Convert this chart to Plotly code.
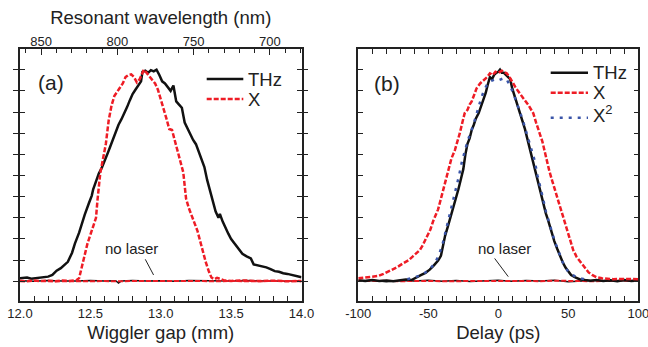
import plotly.graph_objects as go

# ---------------- data: panel (a) ----------------
gap_thz = [12.00, 12.05, 12.08, 12.12, 12.16, 12.20, 12.23, 12.26, 12.29, 12.32, 12.34, 12.37, 12.39,
           12.42, 12.44, 12.46, 12.49, 12.51, 12.52, 12.54, 12.56, 12.58, 12.60, 12.62, 12.64, 12.66,
           12.68, 12.70, 12.72, 12.74, 12.76, 12.78, 12.80, 12.82, 12.84, 12.86, 12.87, 12.89, 12.91,
           12.93, 12.95, 12.97, 12.99, 13.01, 13.03, 13.05, 13.07, 13.09, 13.11, 13.13, 13.15, 13.17,
           13.19, 13.21, 13.23, 13.25, 13.27, 13.29, 13.31, 13.33, 13.35, 13.37, 13.39, 13.41, 13.42,
           13.44, 13.46, 13.48, 13.50, 13.53, 13.56, 13.58, 13.61, 13.64, 13.66, 13.69, 13.72, 13.75,
           13.78, 13.81, 13.84, 13.87, 13.90, 13.94, 13.97, 14.00]
thz_a = [0.015, 0.018, 0.012, 0.016, 0.020, 0.022, 0.030, 0.050, 0.062, 0.078, 0.092, 0.135, 0.178,
         0.230, 0.274, 0.315, 0.370, 0.405, 0.435, 0.470, 0.510, 0.535, 0.565, 0.600, 0.635, 0.670,
         0.705, 0.740, 0.765, 0.790, 0.822, 0.855, 0.885, 0.905, 0.925, 0.945, 0.990, 0.995, 0.985,
         0.998, 0.992, 1.000, 0.975, 0.945, 0.935, 0.920, 0.900, 0.925, 0.850, 0.835, 0.820, 0.750,
         0.720, 0.690, 0.668, 0.648, 0.615, 0.580, 0.540, 0.478, 0.430, 0.390, 0.330, 0.300, 0.318,
         0.282, 0.250, 0.225, 0.200, 0.172, 0.148, 0.130, 0.118, 0.108, 0.080, 0.076, 0.070, 0.066,
         0.058, 0.048, 0.045, 0.038, 0.035, 0.030, 0.025, 0.019]

gap_x = [12.00, 12.05, 12.10, 12.15, 12.20, 12.25, 12.30, 12.35, 12.40, 12.42, 12.44, 12.46, 12.48,
         12.50, 12.52, 12.54, 12.55, 12.56, 12.57, 12.59, 12.61, 12.63, 12.65, 12.67, 12.69, 12.71,
         12.73, 12.75, 12.77, 12.79, 12.81, 12.83, 12.85, 12.87, 12.88, 12.90, 12.92, 12.94, 12.96,
         12.98, 13.00, 13.02, 13.04, 13.06, 13.08, 13.10, 13.12, 13.14, 13.16, 13.18, 13.20, 13.22,
         13.24, 13.26, 13.28, 13.30, 13.32, 13.34, 13.36, 13.38, 13.40, 13.42, 13.45, 13.50, 13.60,
         13.70, 13.80, 13.90, 14.00]
x_a = [0.003, 0.000, 0.004, 0.001, 0.003, 0.000, 0.004, 0.002, 0.005, 0.015, 0.070, 0.130, 0.180,
       0.220, 0.265, 0.300, 0.380, 0.450, 0.510, 0.580, 0.650, 0.760, 0.830, 0.875, 0.895, 0.915,
       0.935, 0.965, 0.975, 0.978, 0.965, 0.940, 0.955, 0.985, 1.000, 0.985, 0.968, 0.952, 0.935,
       0.905, 0.855, 0.815, 0.770, 0.720, 0.715, 0.660, 0.615, 0.565, 0.515, 0.390, 0.345, 0.305,
       0.275, 0.240, 0.190, 0.135, 0.090, 0.050, 0.018, 0.010, 0.016, 0.012, 0.004, 0.002, 0.004,
       0.001, 0.003, 0.000, 0.002]

gap_nl = [12.0, 12.1, 12.2, 12.3, 12.4, 12.5, 12.6, 12.68, 12.70, 12.72, 12.8, 12.9, 13.0, 13.1,
          13.2, 13.3, 13.4, 13.5, 13.6, 13.7, 13.8, 13.9, 14.0]
nl_thz_a = [0.003, 0.000, 0.004, 0.001, 0.002, 0.004, 0.002, 0.003, -0.008, 0.002, 0.004, 0.001,
            0.003, 0.000, 0.004, 0.002, 0.003, 0.001, 0.004, 0.002, 0.003, 0.000, 0.003]
nl_x_a = [0.000, 0.002, 0.000, 0.001, 0.000, 0.002, 0.001, 0.000, 0.001, 0.000, 0.002, 0.000,
          0.001, 0.002, 0.000, 0.001, 0.000, 0.002, 0.000, 0.001, 0.000, 0.002, 0.000]

gap_ticks = [12.0, 12.5, 13.0, 13.5, 14.0]
gap_ticktext = ["12.0", "12.5", "13.0", "13.5", "14.0"]

# top axis (resonant wavelength, nm) – linear over this range
wl_range = [863.8, 679.2]
wl_ticks = [850, 800, 750, 700]

# ---------------- data: panel (b) ----------------
d_thz = [-100, -95, -90, -85, -80, -75, -70, -66, -62, -58, -55, -52, -49, -46, -43, -41, -39.5, -38,
         -36, -34, -32, -30, -28.5, -27, -25, -23.5, -22, -20.5, -19, -17.5, -16, -14, -12, -10.5,
         -9, -7.5, -6, -4.5, -3, -1.5, 0, 1.2, 2.5, 4, 5.5, 7, 8.5, 10, 11.5, 13, 14.5, 16, 17.5,
         19, 20.5, 22, 23.5, 25, 26.5, 28, 29.5, 31, 32.5, 34, 35.5, 37, 38.5, 40, 42, 44, 46, 48,
         50, 52, 55, 58, 62, 66, 70, 75, 80, 85, 90, 95, 100]
thz_b = [0.005, 0.002, 0.006, 0.001, 0.004, 0.000, 0.005, 0.008, 0.006, 0.018, 0.030, 0.040, 0.055,
         0.075, 0.098, 0.120, 0.170, 0.215, 0.260, 0.305, 0.360, 0.400, 0.435, 0.475, 0.530, 0.600,
         0.650, 0.675, 0.715, 0.740, 0.770, 0.795, 0.830, 0.865, 0.890, 0.930, 0.965, 0.955, 0.975,
         0.985, 0.990, 1.000, 0.985, 0.985, 0.975, 0.965, 0.955, 0.910, 0.880, 0.850, 0.815, 0.790,
         0.760, 0.720, 0.680, 0.640, 0.595, 0.550, 0.510, 0.480, 0.435, 0.400, 0.355, 0.320, 0.290,
         0.255, 0.225, 0.190, 0.155, 0.120, 0.090, 0.065, 0.045, 0.030, 0.018, 0.010, 0.006, 0.003,
         0.006, 0.002, 0.005, 0.000, 0.006, 0.002, 0.004]

d_x = [-100, -95, -90, -86, -82, -78, -76, -72, -68, -64, -61, -58, -56, -54, -52, -50, -48.5,
       -46.5, -44.5, -43, -41, -39.5, -37.5, -35.5, -33.5, -31, -29, -27.5, -25.5, -24, -22, -20.5,
       -19, -17, -15.5, -13, -10.5, -8, -6, -4, -2, 0, 2.5, 4.5, 6, 8, 10, 12, 14, 16.5, 19, 21.5,
       23.5, 25, 27, 28.5, 30, 31.5, 33.3, 35, 36.5, 38.5, 40.5, 43, 45, 47, 49, 51, 53.5, 56, 59.5,
       62, 64.5, 67, 70, 74, 78, 82, 88, 94, 100]
x_b = [0.014, 0.018, 0.020, 0.025, 0.035, 0.048, 0.053, 0.068, 0.085, 0.100, 0.118, 0.135, 0.148,
       0.170, 0.195, 0.220, 0.245, 0.285, 0.320, 0.340, 0.390, 0.430, 0.480, 0.530, 0.580, 0.620,
       0.660, 0.700, 0.755, 0.795, 0.810, 0.835, 0.850, 0.885, 0.912, 0.935, 0.951, 0.965, 0.983,
       0.975, 0.990, 0.985, 0.995, 0.990, 0.983, 0.965, 0.940, 0.920, 0.900, 0.880, 0.855, 0.833,
       0.810, 0.794, 0.750, 0.715, 0.690, 0.660, 0.605, 0.560, 0.520, 0.475, 0.430, 0.380, 0.337,
       0.290, 0.242, 0.195, 0.148, 0.115, 0.085, 0.060, 0.042, 0.030, 0.020, 0.014, 0.012, 0.010,
       0.011, 0.009, 0.010]

d_x2 = [-65, -60, -55, -50, -46, -43, -40, -38, -36, -34, -32, -30, -28, -26, -24, -22, -20, -18,
        -16, -14, -12, -10, -8, -6, -4, -2, 0, 2, 4, 6, 8, 10, 12, 14, 16, 18, 20, 22, 24, 26, 28,
        30, 32, 34, 36, 38, 40, 42, 44, 46, 48, 50, 53, 56, 60, 65]
x2_b = [0.010, 0.018, 0.030, 0.050, 0.080, 0.115, 0.170, 0.225, 0.280, 0.330, 0.400, 0.450, 0.500,
        0.565, 0.620, 0.660, 0.700, 0.735, 0.780, 0.830, 0.870, 0.905, 0.930, 0.945, 0.950, 0.955,
        0.950, 0.955, 0.960, 0.955, 0.930, 0.900, 0.865, 0.830, 0.790, 0.750, 0.705, 0.660, 0.620,
        0.570, 0.500, 0.450, 0.390, 0.330, 0.290, 0.240, 0.195, 0.160, 0.120, 0.090, 0.065, 0.045,
        0.030, 0.020, 0.012, 0.008]

d_nl = [-100, -90, -80, -70, -60, -50, -40, -30, -20, -10, 0, 10, 20, 30, 40, 50, 60, 70, 80, 90, 100]
nl_thz_b = [0.002, 0.005, -0.002, 0.004, 0.001, 0.005, 0.000, 0.004, -0.001, 0.003, 0.005, 0.000,
            0.004, 0.001, 0.005, -0.002, 0.003, 0.005, 0.000, 0.004, 0.002]
nl_x_b = [0.003, 0.001, 0.003, 0.000, 0.002, 0.001, 0.003, 0.000, 0.002, 0.001, 0.003, 0.001,
          0.002, 0.000, 0.003, 0.001, 0.002, 0.000, 0.003, 0.001, 0.002]

delay_ticks = [-100, -50, 0, 50, 100]
delay_ticktext = ["-100", "-50", "0", "50", "100"]

legend_a = ["THz", "X"]
legend_b = ["THz", "X", "X<sup>2</sup>"]

# ---------------- style ----------------
FONT = "Liberation Sans, Arial, sans-serif"
BLACK = "#111111"
RED = "#ee1c25"
BLUE = "#3a55a8"
INK = "#222222"
W, H = 648, 347
RED_DASH = "5px,2px"
BLUE_DOT = "3px,6px"

def px_x(p):
    return p / W

def px_y(p):
    return 1 - p / H

y_range = [-0.0907, 1.0964]
dom_a = [px_x(20), px_x(301.5)]
dom_b = [px_x(358.3), px_x(638.3)]
dom_y = [px_y(300.5), px_y(49.3)]

fig = go.Figure()

# panel (a)
fig.add_trace(go.Scatter(x=gap_nl, y=nl_thz_a, mode="lines", line=dict(color=BLACK, width=1.5),
                         showlegend=False, xaxis="x", yaxis="y"))
fig.add_trace(go.Scatter(x=gap_nl, y=nl_x_a, mode="lines", line=dict(color=RED, width=2, dash=RED_DASH),
                         showlegend=False, xaxis="x", yaxis="y"))
fig.add_trace(go.Scatter(x=gap_thz, y=thz_a, mode="lines", name="THz", showlegend=False,
                         line=dict(color=BLACK, width=2.5), xaxis="x", yaxis="y"))
fig.add_trace(go.Scatter(x=gap_x, y=x_a, mode="lines", name="X", showlegend=False,
                         line=dict(color=RED, width=2.5, dash=RED_DASH), xaxis="x", yaxis="y"))
# invisible carrier so the top wavelength axis is drawn
fig.add_trace(go.Scatter(x=wl_ticks, y=[0.5] * len(wl_ticks), mode="markers",
                         marker=dict(opacity=0, size=1), hoverinfo="skip", showlegend=False,
                         xaxis="x3", yaxis="y"))

# panel (b)
fig.add_trace(go.Scatter(x=d_nl, y=nl_thz_b, mode="lines", line=dict(color=BLACK, width=1.5),
                         showlegend=False, xaxis="x2", yaxis="y2"))
fig.add_trace(go.Scatter(x=d_nl, y=nl_x_b, mode="lines", line=dict(color=RED, width=2, dash=RED_DASH),
                         showlegend=False, xaxis="x2", yaxis="y2"))
fig.add_trace(go.Scatter(x=d_thz, y=thz_b, mode="lines", name="THz", showlegend=False,
                         line=dict(color=BLACK, width=2.5), xaxis="x2", yaxis="y2"))
fig.add_trace(go.Scatter(x=d_x, y=x_b, mode="lines", name="X", showlegend=False,
                         line=dict(color=RED, width=2.5, dash=RED_DASH), xaxis="x2", yaxis="y2"))
fig.add_trace(go.Scatter(x=d_x2, y=x2_b, mode="lines", name="X<sup>2</sup>", showlegend=False,
                         line=dict(color=BLUE, width=2.5, dash=BLUE_DOT), xaxis="x2", yaxis="y2"))

tickfont = dict(family=FONT, size=13, color=INK)
titlefont = dict(family=FONT, size=18.5, color=INK)
axline = dict(showline=True, linecolor=INK, linewidth=1.5, showgrid=False, zeroline=False)

# hand-placed legends (line sample + label), positioned in paper pixels
legend_styles_a = [dict(color=BLACK, width=2.5), dict(color=RED, width=2.5, dash=RED_DASH)]
legend_styles_b = [dict(color=BLACK, width=2.5), dict(color=RED, width=2.5, dash=RED_DASH),
                   dict(color=BLUE, width=2.5, dash=BLUE_DOT)]
legend_rows_a = [79, 99]
legend_rows_b = [72.7, 92.7, 117.7]

shapes = [
    dict(type="line", xref="x", yref="y", x0=12.89, y0=0.104, x1=12.949, y1=0.03,
         line=dict(color=INK, width=1)),
    dict(type="line", xref="x2", yref="y2", x0=-2.6, y0=0.108, x1=7.1, y1=0.022,
         line=dict(color=INK, width=1)),
]
annotations = [
    dict(text="(a)", x=12.22, y=0.94, xref="x", yref="y", showarrow=False,
         font=dict(family=FONT, size=21, color=INK)),
    dict(text="(b)", x=-79.5, y=0.935, xref="x2", yref="y2", showarrow=False,
         font=dict(family=FONT, size=21, color=INK)),
    dict(text="no laser", x=12.79, y=0.155, xref="x", yref="y", showarrow=False,
         font=dict(family=FONT, size=15, color=INK)),
    dict(text="no laser", x=4.5, y=0.153, xref="x2", yref="y2", showarrow=False,
         font=dict(family=FONT, size=15, color=INK)),
]

for labels, styles, rows, x0, x1 in [(legend_a, legend_styles_a, legend_rows_a, 206.7, 243.3),
                                     (legend_b, legend_styles_b, legend_rows_b, 550.7, 588.0)]:
    for lab, st, yy in zip(labels, styles, rows):
        shapes.append(dict(type="line", xref="paper", yref="paper", x0=px_x(x0), x1=px_x(x1),
                           y0=px_y(yy), y1=px_y(yy), line=st))
        ty = yy - 4 if "sup" in lab else yy
        annotations.append(dict(text=lab, xref="paper", yref="paper", x=px_x(x1 + 3), y=px_y(ty),
                                xanchor="left", yanchor="middle", showarrow=False,
                                font=dict(family=FONT, size=18.5, color=INK)))

fig.update_layout(
    width=W, height=H,
    margin=dict(l=0, r=0, t=0, b=0),
    paper_bgcolor="white", plot_bgcolor="white",
    font=dict(family=FONT, color=INK),
    showlegend=False,
    xaxis=dict(domain=dom_a, range=[12.0, 14.0], anchor="y", tickvals=gap_ticks,
               ticktext=gap_ticktext, ticks="inside", ticklen=5,
               tickcolor=INK, minor=dict(dtick=0.1, ticks="inside", ticklen=5, tickcolor=INK),
               mirror=True, tickfont=tickfont, automargin=False, ticklabeloverflow="allow",
               title=dict(text="Wiggler gap (mm)", font=titlefont, standoff=6), **axline),
    xaxis3=dict(domain=dom_a, range=wl_range, overlaying="x", side="top", anchor="y",
                tickvals=wl_ticks, ticks="inside", ticklen=6, tickcolor=INK,
                minor=dict(dtick=10, ticks="inside", ticklen=4, tickcolor=INK),
                tickfont=tickfont, automargin=False,
                title=dict(text="Resonant wavelength (nm)", font=titlefont, standoff=4),
                showline=False, showgrid=False, zeroline=False),
    yaxis=dict(domain=dom_y, range=y_range, anchor="x", dtick=0.1, tick0=0, ticks="inside", ticklen=5,
               tickcolor=INK, showticklabels=False, mirror="allticks", automargin=False, **axline),
    xaxis2=dict(domain=dom_b, range=[-100, 100], anchor="y2", tickvals=delay_ticks,
                ticktext=delay_ticktext, ticks="inside", ticklen=5,
                tickcolor=INK, minor=dict(dtick=10, ticks="inside", ticklen=5, tickcolor=INK),
                mirror="allticks", tickfont=tickfont, automargin=False, ticklabeloverflow="allow",
                title=dict(text="Delay (ps)", font=titlefont, standoff=6), **axline),
    yaxis2=dict(domain=dom_y, range=y_range, anchor="x2", dtick=0.1, tick0=0, ticks="inside", ticklen=5,
                tickcolor=INK, showticklabels=False, mirror="allticks", automargin=False, **axline),
    annotations=annotations,
    shapes=shapes,
)

fig.write_html("out.html", config={"displayModeBar": False})

# remove the browser's default page margin so the figure sits at the window origin
with open("out.html", "r", encoding="utf-8") as f:
    html = f.read()
html = html.replace("<head>", "<head><style>html,body{margin:0;padding:0;overflow:hidden;}</style>", 1)
with open("out.html", "w", encoding="utf-8") as f:
    f.write(html)
